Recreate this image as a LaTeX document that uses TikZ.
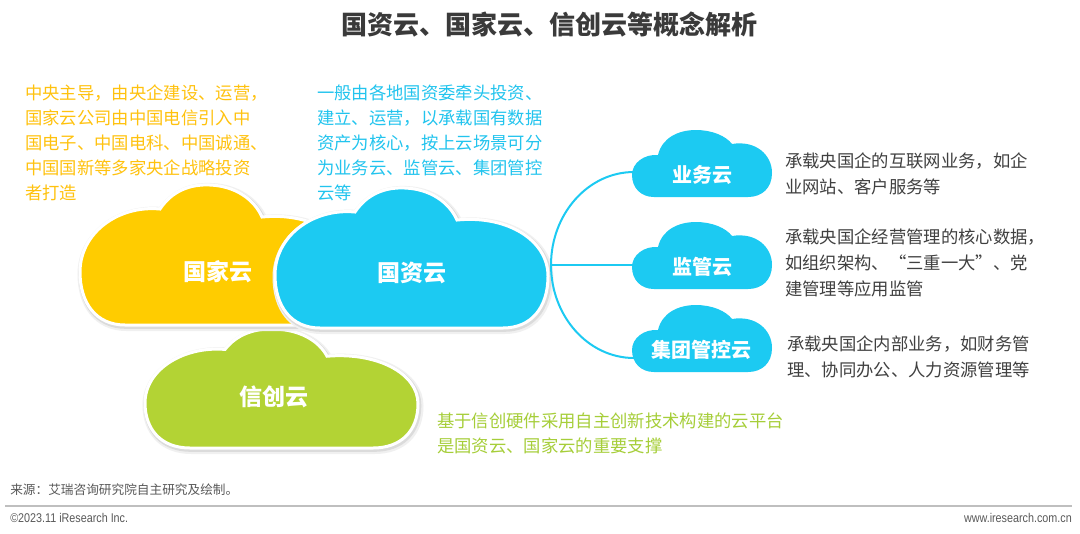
\documentclass[tikz,border=0pt]{standalone}
\usepackage{fontspec}
\usepackage{graphicx}
\setmainfont{Noto Sans CJK SC}
\newfontfamily\latinf{Liberation Sans}
\definecolor{cyl}{HTML}{FFCC00}
\definecolor{cylt}{HTML}{FFC20E}
\definecolor{cbl}{HTML}{1CCAF2}
\definecolor{cblt}{HTML}{22C4EE}
\definecolor{cgr}{HTML}{B3D334}
\definecolor{cgrt}{HTML}{A6CE39}
\definecolor{cgray}{HTML}{404040}
\definecolor{ctitle}{HTML}{3A3A3A}
\definecolor{cfoot}{HTML}{595959}
\tikzset{
  bigcloud/.pic={
    \path[pic actions] (0,87) .. controls (0,48) and (38,20) .. (80,24)
      .. controls (92,6) and (110,-1) .. (130,0)
      .. controls (155,1) and (174,14) .. (182,32)
      .. controls (232,27) and (273,52) .. (273,88)
      .. controls (273,120) and (256,140) .. (228,140)
      -- (45,140)
      .. controls (16,140) and (0,118) .. (0,87) -- cycle;
  },
  smallcloud/.pic={
    \path[pic actions] (0,45) .. controls (0,33) and (12,24) .. (26,25)
      .. controls (30,8) and (46,0) .. (64,0)
      .. controls (80,0) and (94,6) .. (100,14)
      .. controls (124,10) and (140,25) .. (140,43)
      .. controls (140,58) and (130,67) .. (116,67)
      -- (22,67)
      .. controls (9,67) and (0,58) .. (0,45) -- cycle;
  },
  bigstyle/.style={draw=white, line width=2.25pt},
  shadowouter/.style={fill=black!6, draw=black!6, line width=6pt},
  shadowinner/.style={fill=black!14, draw=black!14, line width=3.5pt},
  biglbl/.style={text=white, font=\fontsize{17.25}{20}\selectfont\bfseries, inner sep=0pt},
  smalllbl/.style={text=white, font=\fontsize{15}{18}\selectfont\bfseries, inner sep=0pt},
  body/.style={anchor=north west, inner sep=0pt, align=left, font=\fontsize{13}{18.75}\selectfont},
  rbody/.style={anchor=north west, inner sep=0pt, align=left, font=\fontsize{13}{19.5}\selectfont, text=cgray},
  conn/.style={draw=cbl, line width=1.5pt},
}
\begin{document}
\begin{tikzpicture}[x=0.75pt, y=-0.75pt]
\useasboundingbox (0,0) rectangle (1080,533);
\fill[white] (0,0) rectangle (1080,533);

% title
\node[font=\fontsize{19.5}{22}\selectfont\bfseries, text=ctitle, inner sep=0pt] (title) at (549,25) {国资云、国家云、信创云等概念解析};

% texts
\node[body, text=cylt] (ytext) at (25,85) {中央主导，由央企建设、运营，\\国家云公司由中国电信引入中\\国电子、中国电科、中国诚通、\\中国国新等多家央企战略投资\\者打造};
\node[body, text=cblt] (btext) at (317,85) {一般由各地国资委牵头投资、\\建立、运营，以承载国有数据\\资产为核心，按上云场景可分\\为业务云、监管云、集团管控\\云等};

% big clouds (with soft shadows)
\pic[shadowouter, yscale=0.85] at (146.5,331) {bigcloud};
\pic[shadowinner, yscale=0.85] at (146,330.5) {bigcloud};
\pic[fill=cgr, bigstyle, yscale=0.85] at (145,329) {bigcloud};
\pic[shadowouter] at (81.5,187) {bigcloud};
\pic[shadowinner] at (81,186.5) {bigcloud};
\pic[fill=cyl, bigstyle] at (80,185) {bigcloud};
\pic[shadowouter] at (276.5,190) {bigcloud};
\pic[shadowinner] at (276,189.5) {bigcloud};
\pic[fill=cbl, bigstyle] at (275,188) {bigcloud};
\node[biglbl] (gjy) at (218,272) {国家云};
\node[biglbl] (gzy) at (412,273) {国资云};
\node[biglbl] (xcy) at (274,397) {信创云};

% connectors
\coordinate (hub) at (551,265);
\coordinate (ywL) at (634,172);
\coordinate (jgL) at (634,265);
\coordinate (jtL) at (634,358);
\draw[conn] (hub) .. controls (551,214) and (588,172) .. (ywL);
\draw[conn] (hub) -- (jgL);
\draw[conn] (hub) .. controls (551,316) and (588,358) .. (jtL);

% small clouds
\pic[fill=cbl] at (632,130) {smallcloud};
\pic[fill=cbl] at (632,222) {smallcloud};
\pic[fill=cbl] at (632,305) {smallcloud};
\node[smalllbl] (ywy) at (702,175) {业务云};
\node[smalllbl] (jgy) at (702,267) {监管云};
\node[smalllbl] (jty) at (701,350) {集团管控云};

% right texts
\node[rbody] (t1) at (785,153) {承载央国企的互联网业务，如企\\业网站、客户服务等};
\node[rbody] (t2) at (785,229) {承载央国企经营管理的核心数据，\\如组织架构、“三重一大”、党\\建管理等应用监管};
\node[rbody] (t3) at (787,336) {承载央国企内部业务，如财务管\\理、协同办公、人力资源管理等};

% green text
\node[body, text=cgrt] (gtext) at (437,413) {基于信创硬件采用自主创新技术构建的云平台\\是国资云、国家云的重要支撑};

% footer
\node[anchor=west, inner sep=0pt, text=cfoot, font=\fontsize{9.5}{11}\selectfont] (src) at (10,490) {来源：艾瑞咨询研究院自主研究及绘制。};
\coordinate (lineL) at (5,506);
\coordinate (lineR) at (1072,506);
\draw[draw=black!25, line width=1.1pt] (lineL) -- (lineR);
\node[anchor=west, inner sep=0pt, text=cfoot, font=\latinf\fontsize{9.5}{11}\selectfont] (copy) at (10,518) {\scalebox{0.85}[1]{©2023.11 iResearch Inc.}};
\node[anchor=east, inner sep=0pt, text=cfoot, font=\latinf\fontsize{9.5}{11}\selectfont] (www) at (1072,518) {\scalebox{0.85}[1]{www.iresearch.com.cn}};
\end{tikzpicture}
\end{document}
